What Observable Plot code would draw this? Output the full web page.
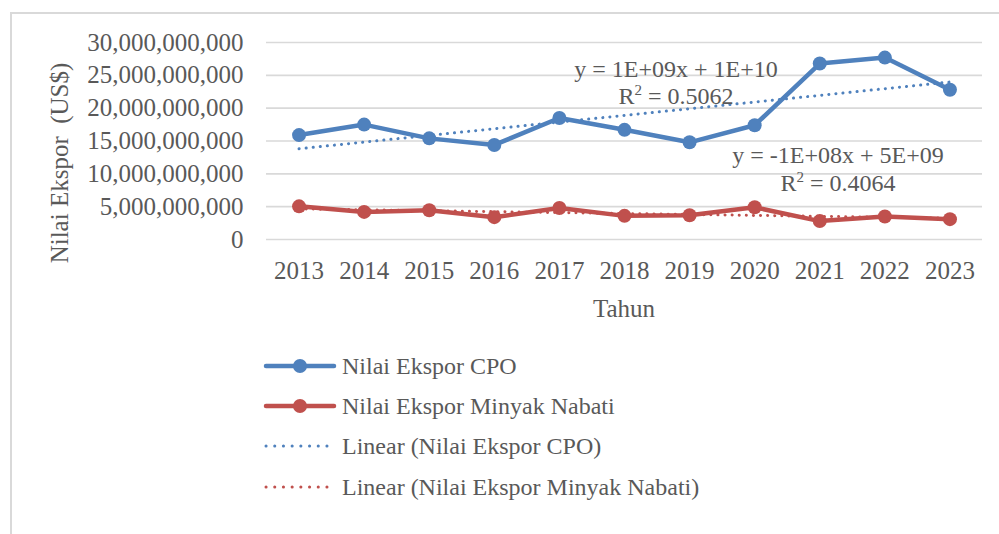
<!DOCTYPE html>
<html>
<head>
<meta charset="utf-8">
<script src="https://cdn.jsdelivr.net/npm/d3@7"></script>
<script src="https://cdn.jsdelivr.net/npm/@observablehq/plot@0.6"></script>
<style>
  body { margin: 0; background: #fff; }
  #wrap { position: relative; width: 999px; height: 534px; overflow: hidden;
          font-family: "Liberation Serif", serif; color: #595959; }
  #frame { position: absolute; left: 10px; top: 12px; width: 1100px; height: 700px;
           border-left: 2px solid #d9d9d9; border-top: 2px solid #d9d9d9; z-index: 2; pointer-events: none; }
  #chart { position: absolute; left: 0; top: 0; }
  .ann { position: absolute; width: 320px; text-align: center; font-size: 24px; white-space: nowrap; }
  .ann sup { font-size: 15px; position: relative; top: -9px; vertical-align: baseline; line-height: 0; }
  .leg { position: absolute; left: 263px; height: 30px; display: flex; align-items: center; font-size: 24px; white-space: nowrap; }
  .leg svg { margin-right: 5px; }
  #ytitle { position: absolute; left: 60px; top: 163px; font-size: 25px; line-height: 28px; white-space: pre;
            transform: translate(-50%, -50%) rotate(-90deg); }
  #xtitle { position: absolute; left: 524px; width: 200px; top: 295px; text-align: center; font-size: 25px; line-height: 28px; }
</style>
</head>
<body>
<div id="wrap">
  <div id="frame"></div>
  <div id="chart"></div>
  <div id="ytitle"></div>
  <div id="xtitle"></div>
</div>
<script>
// ---- data ----
const years = [2013, 2014, 2015, 2016, 2017, 2018, 2019, 2020, 2021, 2022, 2023];
const cpoValues = [15.9e9, 17.5e9, 15.4e9, 14.4e9, 18.5e9, 16.7e9, 14.8e9, 17.4e9, 26.8e9, 27.7e9, 22.8e9];
const nabatiValues = [5.05e9, 4.2e9, 4.45e9, 3.4e9, 4.8e9, 3.6e9, 3.7e9, 4.9e9, 2.8e9, 3.5e9, 3.1e9];
const seriesNames = ["Nilai Ekspor CPO", "Nilai Ekspor Minyak Nabati"];
const trendNames = ["Linear (Nilai Ekspor CPO)", "Linear (Nilai Ekspor Minyak Nabati)"];
const seriesColors = ["#4F81BD", "#C0504D"];
const yTicks = [0, 5e9, 10e9, 15e9, 20e9, 25e9, 30e9];
const eqCPO = ["y = 1E+09x + 1E+10", "0.5062"];
const eqNabati = ["y = -1E+08x + 5E+09", "0.4064"];
const xTitle = "Tahun";
const yTitle = "Nilai Ekspor  (US$)";

const cpoRows = years.map((year, i) => ({year, value: cpoValues[i], series: seriesNames[0]}));
const nabRows = years.map((year, i) => ({year, value: nabatiValues[i], series: seriesNames[1]}));

const plot = Plot.plot({
  width: 999,
  height: 329,
  marginTop: 42,
  marginBottom: 90,
  marginLeft: 266,
  marginRight: 17,
  style: { fontFamily: "Liberation Serif, serif", fontSize: "25px", color: "#595959", background: "transparent" },
  x: { type: "linear", domain: [2012.5, 2023.5] },
  y: { domain: [0, 30e9] },
  marks: [
    Plot.gridY(yTicks, { stroke: "#d9d9d9", strokeOpacity: 1, strokeWidth: 1.6 }),
    Plot.axisY(yTicks, { tickSize: 0, tickPadding: 23, tickFormat: d3.format(","), fontSize: 25, label: null }),
    Plot.axisX(years, { tickSize: 0, tickPadding: 22, tickFormat: "d", fontSize: 25, label: null }),
    Plot.line(cpoRows, { x: "year", y: "value", stroke: seriesColors[0], strokeWidth: 4.5, strokeLinejoin: "round", strokeLinecap: "round" }),
    Plot.dot(cpoRows, { x: "year", y: "value", fill: seriesColors[0], r: 7 }),
    Plot.line(nabRows, { x: "year", y: "value", stroke: seriesColors[1], strokeWidth: 4.5, strokeLinejoin: "round", strokeLinecap: "round" }),
    Plot.dot(nabRows, { x: "year", y: "value", fill: seriesColors[1], r: 7 }),
    Plot.linearRegressionY(cpoRows, { x: "year", y: "value", stroke: seriesColors[0], ci: 0, strokeWidth: 3, strokeDasharray: "0.1 7", strokeLinecap: "round" }),
    Plot.linearRegressionY(nabRows, { x: "year", y: "value", stroke: seriesColors[1], ci: 0, strokeWidth: 3, strokeDasharray: "0.1 7", strokeLinecap: "round" })
  ]
});
document.getElementById("chart").appendChild(plot);
document.getElementById("ytitle").textContent = yTitle;
document.getElementById("xtitle").textContent = xTitle;

const wrap = document.getElementById("wrap");
function addAnn(lines, cx, top, lh) {
  const d = document.createElement("div");
  d.className = "ann";
  d.style.left = (cx - 160) + "px";
  d.style.top = top + "px";
  d.style.lineHeight = lh + "px";
  d.innerHTML = lines[0] + "<br>R<sup>2</sup> = " + lines[1];
  wrap.appendChild(d);
}
addAnn(eqCPO, 676, 56, 27);
addAnn(eqNabati, 838, 141, 28);

const legendItems = [
  { label: seriesNames[0], color: seriesColors[0], dotted: false },
  { label: seriesNames[1], color: seriesColors[1], dotted: false },
  { label: trendNames[0], color: seriesColors[0], dotted: true },
  { label: trendNames[1], color: seriesColors[1], dotted: true }
];
const legendCenters = [366, 406, 446, 487];
legendItems.forEach((it, i) => {
  const row = document.createElement("div");
  row.className = "leg";
  row.style.top = (legendCenters[i] - 15) + "px";
  const ns = "http://www.w3.org/2000/svg";
  const svg = document.createElementNS(ns, "svg");
  svg.setAttribute("width", 74); svg.setAttribute("height", 30);
  const ln = document.createElementNS(ns, "line");
  ln.setAttribute("y1", 15); ln.setAttribute("y2", 15);
  ln.setAttribute("stroke", it.color);
  ln.setAttribute("stroke-linecap", "round");
  if (it.dotted) {
    ln.setAttribute("x1", 3); ln.setAttribute("x2", 72);
    ln.setAttribute("stroke-width", 3);
    ln.setAttribute("stroke-dasharray", "0.1 8.6");
  } else {
    ln.setAttribute("x1", 3); ln.setAttribute("x2", 71);
    ln.setAttribute("stroke-width", 4.5);
  }
  svg.appendChild(ln);
  if (!it.dotted) {
    const c = document.createElementNS(ns, "circle");
    c.setAttribute("cx", 37); c.setAttribute("cy", 15); c.setAttribute("r", 7);
    c.setAttribute("fill", it.color);
    svg.appendChild(c);
  }
  row.appendChild(svg);
  const t = document.createElement("span");
  t.textContent = it.label;
  row.appendChild(t);
  wrap.appendChild(row);
});
</script>
</body>
</html>
